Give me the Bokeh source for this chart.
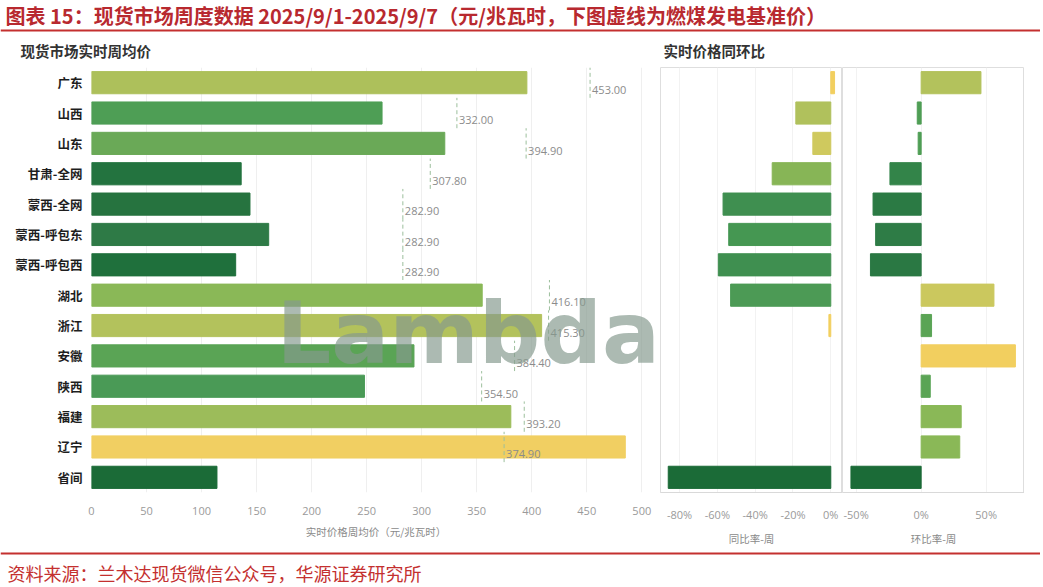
from bokeh.plotting import figure
from bokeh.models import Range1d, FactorRange, ColumnDataSource, NumeralTickFormatter, FixedTicker, Label
from bokeh.layouts import column, row
from bokeh.transform import dodge
from bokeh.core.properties import value
from bokeh.embed import file_html
from bokeh.resources import INLINE

# ---------------- data ----------------
provinces = ["广东", "山西", "山东", "甘肃-全网", "蒙西-全网", "蒙西-呼包东", "蒙西-呼包西",
             "湖北", "浙江", "安徽", "陕西", "福建", "辽宁", "省间"]
price = [395.6, 264, 321, 136, 144, 161, 131, 355, 409, 293, 248, 381, 485, 114]
benchmark = [453.00, 332.00, 394.90, 307.80, 282.90, 282.90, 282.90,
             416.10, 415.30, 384.40, 354.50, 393.20, 374.90, None]
yoy = [0.02, -0.185, -0.095, -0.31, -0.57, -0.54, -0.595, -0.53, -0.01,
       None, None, None, None, -0.86]
qoq = [0.46, -0.03, -0.023, -0.24, -0.37, -0.35, -0.39, 0.56, 0.08, 0.725,
       0.07, 0.308, 0.297, -0.54]

price_ticks = [0, 50, 100, 150, 200, 250, 300, 350, 400, 450, 500]
yoy_ticks = [-0.8, -0.6, -0.4, -0.2, 0.0]
qoq_ticks = [-0.5, 0.0, 0.5]

price_colors = ["#adc05b", "#4e9e55", "#6aa957", "#23733f", "#26733f", "#2e7a46", "#1f703c",
                "#8ab857", "#b3c25c", "#5aa455", "#4a9a56", "#9cbc5a", "#f1cf62", "#1b6b37"]
yoy_colors = ["#f2cf5f", "#b0c15c", "#cfc95e", "#87b556", "#3f8f50", "#459752", "#3f8f50",
              "#4c9a55", "#f2cf5f", "#5aa455", "#5aa455", "#8ab857", "#8ab857", "#1b6b37"]
qoq_colors = ["#b3c25c", "#4f9e55", "#4f9e55", "#338449", "#2b7a44", "#2e7c46", "#2a7843",
              "#cbc85e", "#5aa455", "#f2cf5f", "#5aa455", "#8ab857", "#8ab857", "#1b6b37"]

title_text = "图表 15：现货市场周度数据 2025/9/1-2025/9/7（元/兆瓦时，下图虚线为燃煤发电基准价）"
left_title = "现货市场实时周均价"
right_title = "实时价格同环比"
source_text = "资料来源：兰木达现货微信公众号，华源证券研究所"
price_axis_label = "实时价格周均价（元/兆瓦时）"
yoy_axis_label = "同比率-周"
qoq_axis_label = "环比率-周"
watermark = "Lambda"

CJK = "Noto Sans CJK SC"
NUM = "Open Sans"
RED = "#b8292f"

yr = FactorRange(factors=provinces[::-1])

common = dict(height=486, y_range=yr, output_backend="svg", toolbar_location=None,
              min_border_top=5, min_border_bottom=49, min_border_right=0,
              background_fill_color="white", border_fill_color="white")


def style_xaxis(p, label, label_color="#8a8a8a"):
    ax = p.xaxis[0]
    ax.major_tick_line_color = None
    ax.minor_tick_line_color = None
    ax.major_label_text_font = NUM
    ax.major_label_text_font_size = "11px"
    ax.major_label_text_color = "#9a9a9a"
    ax.major_label_standoff = 8
    ax.axis_label = label
    ax.axis_label_text_font = CJK
    ax.axis_label_text_font_style = "normal"
    ax.axis_label_text_font_size = "10.5px"
    ax.axis_label_text_color = label_color
    ax.axis_label_standoff = 6


# ---------------- left panel: weekly average price ----------------
left = figure(width=660, x_range=Range1d(0, 517), min_border_left=91, **common)
src = ColumnDataSource(dict(prov=provinces, price=price, color=price_colors))
left.hbar(y="prov", right="price", height=0.73, color="color", source=src)

bp = [p for p, b in zip(provinces, benchmark) if b is not None]
bv = [b for b in benchmark if b is not None]
bsrc = ColumnDataSource(dict(prov=bp, bench=bv, label=[f"{b:.2f}" for b in bv]))
left.segment(x0="bench", y0=dodge("prov", -0.5, range=yr), x1="bench",
             y1=dodge("prov", 0.5, range=yr), line_dash="4 3", line_color="#9cbf9c",
             line_width=1, source=bsrc)
left.text(x="bench", y=dodge("prov", -0.24, range=yr), text="label", x_offset=2,
          text_font=value(NUM), text_font_size="11px", text_color="#8c8c8c",
          text_baseline="middle", source=bsrc)

left.xaxis.ticker = FixedTicker(ticks=price_ticks)
left.xaxis.axis_line_color = None
style_xaxis(left, price_axis_label)
left.yaxis.axis_line_color = None
left.yaxis.major_tick_line_color = None
left.yaxis.minor_tick_line_color = None
left.yaxis.major_label_text_font = CJK
left.yaxis.major_label_text_font_style = "bold"
left.yaxis.major_label_text_font_size = "12.5px"
left.yaxis.major_label_text_color = "#1e1e1e"
left.yaxis.major_label_standoff = 3
left.ygrid.grid_line_color = None
left.xgrid.grid_line_color = "#efefef"
left.outline_line_color = None
left.add_layout(Label(x=168, y=5.25, text=watermark, text_font="DejaVu Sans",
                      text_font_style="bold", text_font_size="86px", text_color="#849a8d",
                      text_alpha=0.68, text_baseline="alphabetic"))

# ---------------- YoY panel ----------------
yoy_fig = figure(width=182, x_range=Range1d(-0.901, 0.062), min_border_left=0,
                 y_axis_location=None, **common)
yp = [p for p, v in zip(provinces, yoy) if v is not None]
yv = [v for v in yoy if v is not None]
yc = [c for c, v in zip(yoy_colors, yoy) if v is not None]
yoy_fig.hbar(y=yp, left=0, right=yv, height=0.73, color=yc)
yoy_fig.xaxis.ticker = FixedTicker(ticks=yoy_ticks)
yoy_fig.xaxis.formatter = NumeralTickFormatter(format="0%")
yoy_fig.xaxis.axis_line_color = "#d9d9d9"
style_xaxis(yoy_fig, yoy_axis_label)
yoy_fig.xgrid.grid_line_color = "#f2f2f2"
yoy_fig.ygrid.grid_line_color = None
yoy_fig.outline_line_color = "#dedede"

# ---------------- QoQ panel ----------------
qoq_fig = figure(width=182, x_range=Range1d(-0.605, 0.795), min_border_left=0,
                 y_axis_location=None, **common)
qoq_fig.hbar(y=provinces, left=0, right=qoq, height=0.73, color=qoq_colors)
qoq_fig.xaxis.ticker = FixedTicker(ticks=qoq_ticks)
qoq_fig.xaxis.formatter = NumeralTickFormatter(format="0%")
qoq_fig.xaxis.axis_line_color = "#d9d9d9"
style_xaxis(qoq_fig, qoq_axis_label)
qoq_fig.xgrid.grid_line_color = "#f2f2f2"
qoq_fig.ygrid.grid_line_color = None
qoq_fig.outline_line_color = "#dedede"


# ---------------- header & footer ----------------
def blank(w, h):
    f = figure(width=w, height=h, x_range=Range1d(0, w), y_range=Range1d(h, 0),
               output_backend="svg", toolbar_location=None, min_border=0,
               x_axis_location=None, y_axis_location=None,
               background_fill_color="white", border_fill_color="white")
    f.grid.visible = False
    f.outline_line_color = None
    return f


head = blank(1040, 62)
head.text(x=[5], y=[15], text=[title_text], text_font=value(CJK), text_font_style="bold",
          text_font_size="20px", text_color=RED, text_baseline="middle")
head.segment(x0=[0], y0=[30], x1=[1040], y1=[30], line_color="#c4302f", line_width=2)
head.text(x=[20, 663], y=[50, 50], text=[left_title, right_title], text_font=value(CJK),
          text_font_style="bold", text_font_size="14.5px", text_color="#333333",
          text_baseline="middle")

foot = blank(1040, 38)
foot.segment(x0=[0], y0=[5], x1=[1040], y1=[5], line_color="#c4302f", line_width=2)
foot.text(x=[7], y=[24], text=[source_text], text_font=value(CJK),
          text_font_size="18px", text_color="#c4302f", text_baseline="middle")

layout = column(head, row(left, yoy_fig, qoq_fig), foot)

open("out.html", "w").write(file_html(layout, INLINE))
